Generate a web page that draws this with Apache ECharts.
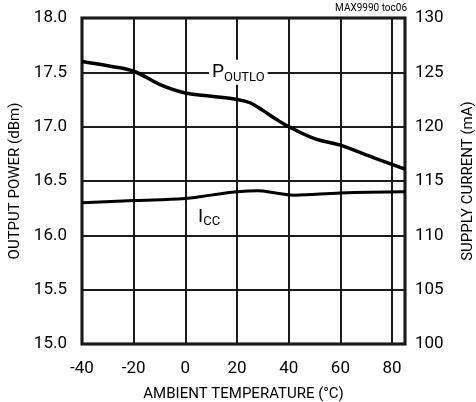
<!DOCTYPE html>
<html>
<head>
<meta charset="utf-8">
<style>
  html, body { margin: 0; padding: 0; background: #fff; }
  #chart { width: 476px; height: 402px; }
</style>
<script src="https://cdn.jsdelivr.net/npm/echarts@6/dist/echarts.min.js"></script>
</head>
<body>
<div id="chart"></div>
<script>
// Temperature ticks (°C)
const tempTicks = [-40, -20, 0, 20, 40, 60, 80];
// Output power, low-band port (dBm) vs ambient temperature
const poutTemp = [-40, -30, -20, -10, 0, 10, 20, 25, 30, 35, 40, 50, 60, 70, 85];
const poutVals = [17.60, 17.56, 17.51, 17.39, 17.31, 17.28, 17.25, 17.22, 17.15, 17.07, 17.00, 16.89, 16.83, 16.74, 16.61];
// Supply current (mA) vs ambient temperature
const iccTemp = [-40, -20, 0, 10, 20, 28, 35, 42, 60, 85];
const iccVals = [113.0, 113.2, 113.4, 113.7, 114.0, 114.1, 113.9, 113.7, 113.9, 114.0];
// Axis tick labels
const powerTicks = ['15.0', '15.5', '16.0', '16.5', '17.0', '17.5', '18.0'];
const currentTicks = ['100', '105', '110', '115', '120', '125', '130'];

const FONT = 'Roboto, "Liberation Sans", sans-serif';
const GRID_LINE = { color: '#1a1a1a', width: 2 };

const chart = echarts.init(document.getElementById('chart'));
chart.setOption({
  animation: false,
  backgroundColor: '#fff',
  textStyle: { fontFamily: FONT, color: '#000' },
  grid: {
    left: 82, right: 71, top: 18, bottom: 58,
    show: true, borderColor: '#000', borderWidth: 3,
    containLabel: false, outerBoundsMode: 'none'
  },
  xAxis: {
    type: 'value', min: -40, max: 85, interval: 20,
    name: 'AMBIENT TEMPERATURE (°C)', nameLocation: 'middle', nameGap: 43,
    nameTextStyle: { fontFamily: FONT, fontSize: 15, color: '#000' },
    axisLine: { show: false },
    axisTick: { show: false },
    axisLabel: {
      fontFamily: FONT, fontSize: 17, color: '#000', margin: 16,
      formatter: v => tempTicks.indexOf(v) >= 0 ? String(v) : ''
    },
    splitLine: { show: true, lineStyle: GRID_LINE }
  },
  yAxis: [{
    type: 'value', min: 15, max: 18, interval: 0.5, position: 'left',
    name: 'OUTPUT POWER (dBm)', nameLocation: 'middle', nameGap: 58, nameRotate: 90,
    nameTextStyle: { fontFamily: FONT, fontSize: 15, color: '#000' },
    axisLine: { show: false }, axisTick: { show: false },
    axisLabel: {
      fontFamily: FONT, fontSize: 17, color: '#000', margin: 15,
      formatter: v => powerTicks[Math.round((v - 15) / 0.5)]
    },
    splitLine: { show: true, lineStyle: GRID_LINE }
  }, {
    type: 'value', min: 100, max: 130, interval: 5, position: 'right',
    name: 'SUPPLY CURRENT (mA)', nameLocation: 'middle', nameGap: 56, nameRotate: 90,
    nameTextStyle: { fontFamily: FONT, fontSize: 15, color: '#000' },
    axisLine: { show: false }, axisTick: { show: false },
    axisLabel: {
      fontFamily: FONT, fontSize: 17, color: '#000', margin: 10,
      formatter: v => currentTicks[Math.round((v - 100) / 5)]
    },
    splitLine: { show: false }
  }],
  graphic: [{
    type: 'text', right: 69, top: 3,
    style: { text: 'MAX9990 toc06', fontFamily: FONT, fontSize: 10, fill: '#000' }
  }],
  series: [{
    name: 'POUTLO', type: 'line', yAxisIndex: 0, smooth: 0.4,
    showSymbol: false, symbol: 'none',
    lineStyle: { color: '#000', width: 3.5 },
    data: poutTemp.map((t, i) => [t, poutVals[i]]),
    markPoint: {
      symbol: 'rect', symbolSize: 0,
      label: {
        show: true, position: 'inside', backgroundColor: '#fff', padding: [3, 3, 3, 3],
        formatter: '{p|P}{s|OUTLO}',
        rich: {
          p: { fontFamily: FONT, fontSize: 19, color: '#000', verticalAlign: 'bottom' },
          s: { fontFamily: FONT, fontSize: 13, color: '#000', verticalAlign: 'bottom', padding: [0, 0, -2, 0] }
        }
      },
      data: [{ coord: [20.5, 17.5], value: 0 }]
    }
  }, {
    name: 'ICC', type: 'line', yAxisIndex: 1, smooth: 0.4,
    showSymbol: false, symbol: 'none',
    lineStyle: { color: '#000', width: 3 },
    data: iccTemp.map((t, i) => [t, iccVals[i]]),
    markPoint: {
      symbol: 'rect', symbolSize: 0,
      label: {
        show: true, position: 'inside',
        formatter: '{p|I}{s|CC}',
        rich: {
          p: { fontFamily: FONT, fontSize: 19, color: '#000', verticalAlign: 'bottom' },
          s: { fontFamily: FONT, fontSize: 13, color: '#000', verticalAlign: 'bottom', padding: [0, 0, -2, 0] }
        }
      },
      data: [{ coord: [9.2, 111.7], value: 0 }]
    }
  }]
});
</script>
</body>
</html>
